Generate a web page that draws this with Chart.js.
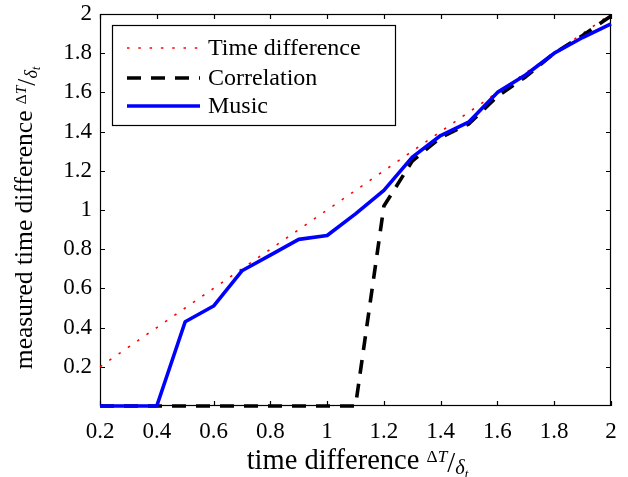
<!DOCTYPE html>
<html><head><meta charset="utf-8">
<script src="https://cdn.jsdelivr.net/npm/chart.js@4.4.0/dist/chart.umd.min.js"></script>
<style>html,body{margin:0;padding:0;background:#fff}#wrap{width:628px;height:477px}</style>
</head><body><div id="wrap"><canvas id="c" width="628" height="477"></canvas></div>
<script>
// ---- data ----
const xValues = [0.2,0.3,0.4,0.5,0.6,0.7,0.8,0.9,1.0,1.1,1.2,1.3,1.4,1.5,1.6,1.7,1.8,1.9,2.0];
const timeDifference = [0.2,0.3,0.4,0.5,0.6,0.7,0.8,0.9,1.0,1.1,1.2,1.3,1.4,1.5,1.6,1.7,1.8,1.9,2.0];
const correlation = [0,0,0,0,0,0,0,0,0,0,1.02,1.25,1.37,1.44,1.58,1.68,1.80,1.89,1.99];
const music = [0,0,0,0.43,0.51,0.69,0.77,0.85,0.87,0.98,1.10,1.27,1.38,1.45,1.60,1.69,1.80,1.88,1.95];
const seriesLabels = ['Time difference','Correlation','Music'];
const xTicks = [0.2,0.4,0.6,0.8,1.0,1.2,1.4,1.6,1.8,2.0];
const xTickLabels = ['0.2','0.4','0.6','0.8','1','1.2','1.4','1.6','1.8','2'];
const yTicks = [0.2,0.4,0.6,0.8,1.0,1.2,1.4,1.6,1.8,2.0];
const yTickLabels = ['0.2','0.4','0.6','0.8','1','1.2','1.4','1.6','1.8','2'];
const xTitleText = 'time difference ';
const yTitleText = 'measured time difference ';

const FONT = "'Liberation Serif','Times New Roman',serif";
const toPts = ys => xValues.map((x,i)=>({x:x,y:ys[i]}));

const styles = [
  {color:'#ff0000', width:1.6, dash:[2.5,8.8]},
  {color:'#000000', width:3.6, dash:[14,10]},
  {color:'#0000ff', width:3.6, dash:[]}
];

function drawMath(ctx, parts, x, y, rot){
  ctx.save();
  ctx.translate(x,y);
  if(rot) ctx.rotate(rot);
  let total=0;
  parts.forEach(p=>{ctx.font=p.f; p.w=ctx.measureText(p.t).width; total+=p.w;});
  let cx=-total/2;
  ctx.fillStyle='#000';
  ctx.textBaseline='alphabetic';
  ctx.textAlign='left';
  parts.forEach(p=>{ctx.font=p.f; ctx.fillText(p.t,cx,p.dy||0); cx+=p.w;});
  ctx.restore();
}
function mathParts(text, s){
  const k=s/28;
  return [
    {t:text, f:s+"px "+FONT},
    {t:'\u0394', f:(17*k)+"px "+FONT, dy:-7*k},
    {t:'T', f:"italic "+(17*k)+"px "+FONT, dy:-7*k},
    {t:'/', f:s+"px "+FONT, dy:3*k},
    {t:'\u03B4', f:"italic "+(20*k)+"px "+FONT, dy:5*k},
    {t:'t', f:"italic "+(13*k)+"px "+FONT, dy:9*k}
  ];
}

const boxPlugin = {
  id:'box',
  beforeDatasetsDraw(chart){
    const {ctx, chartArea:a, scales} = chart;
    ctx.save();
    ctx.strokeStyle='#000'; ctx.lineWidth=1.2;
    ctx.strokeRect(a.left+0.5,a.top+0.5,a.right-a.left-1,a.bottom-a.top-1);
    ctx.beginPath();
    xTicks.forEach(v=>{const px=Math.round(scales.x.getPixelForValue(v))+0.5;
      ctx.moveTo(px,a.bottom); ctx.lineTo(px,a.bottom-5);
      ctx.moveTo(px,a.top); ctx.lineTo(px,a.top+5);});
    yTicks.forEach(v=>{const py=Math.round(scales.y.getPixelForValue(v))+0.5;
      ctx.moveTo(a.left,py); ctx.lineTo(a.left+5,py);
      ctx.moveTo(a.right,py); ctx.lineTo(a.right-5,py);});
    ctx.stroke();
    ctx.restore();
  },
  afterDraw(chart){
    const {ctx, chartArea:a} = chart;
    // axis titles
    drawMath(ctx, mathParts(xTitleText,28.5), (a.left+a.right)/2+2, 469, 0);
    drawMath(ctx, mathParts(yTitleText,25.5), 32, (a.top+a.bottom)/2+8, -Math.PI/2);
    // legend
    ctx.save();
    const L=112,T=25,R=395,B=125;
    ctx.fillStyle='#fff'; ctx.fillRect(L,T,R-L,B-T);
    ctx.strokeStyle='#000'; ctx.lineWidth=1.2; ctx.strokeRect(L+0.5,T+0.5,R-L,B-T);
    const rows=[48,78,106];
    chart.data.datasets.forEach((ds,i)=>{
      const st=styles[i];
      ctx.beginPath(); ctx.setLineDash(st.dash); ctx.lineCap='butt';
      ctx.strokeStyle=st.color; ctx.lineWidth=st.width;
      ctx.moveTo(127,rows[i]); ctx.lineTo(200,rows[i]); ctx.stroke();
      ctx.setLineDash([]);
      ctx.fillStyle='#000'; ctx.font="24px "+FONT; ctx.textBaseline='middle'; ctx.textAlign='left';
      ctx.fillText(ds.label,208,rows[i]+1);
    });
    ctx.restore();
  }
};

const datasets = [timeDifference, correlation, music].map((ys,i)=>({
  label: seriesLabels[i], data: toPts(ys),
  borderColor: styles[i].color, borderWidth: styles[i].width, borderDash: styles[i].dash,
  borderCapStyle:'butt', borderJoinStyle:'round',
  pointRadius:0, tension:0, fill:false, clip:false, order: 2-i
}));

new Chart(document.getElementById('c'), {
  type:'line',
  data:{datasets},
  options:{
    responsive:false, animation:false, devicePixelRatio:1,
    layout:{padding:{top:14,right:17,left:0,bottom:0}},
    plugins:{legend:{display:false}, tooltip:{enabled:false}},
    scales:{
      x:{type:'linear', min:0.2, max:2,
        afterBuildTicks:s=>{s.ticks=xTicks.map(v=>({value:v}));},
        afterFit:s=>{s.height=71; s.paddingLeft=0; s.paddingRight=0;},
        grid:{display:false, drawTicks:false}, border:{display:false},
        ticks:{padding:12, color:'#000', font:{family:FONT,size:23}, maxRotation:0,
          callback:(v,i)=>xTickLabels[i]}},
      y:{type:'linear', min:0, max:2,
        afterBuildTicks:s=>{s.ticks=yTicks.map(v=>({value:v}));},
        afterFit:s=>{s.width=100; s.paddingTop=0; s.paddingBottom=0;},
        grid:{display:false, drawTicks:false}, border:{display:false},
        ticks:{padding:8, color:'#000', font:{family:FONT,size:23},
          callback:(v,i)=>yTickLabels[i]}}
    }
  },
  plugins:[boxPlugin]
});
</script></body></html>
